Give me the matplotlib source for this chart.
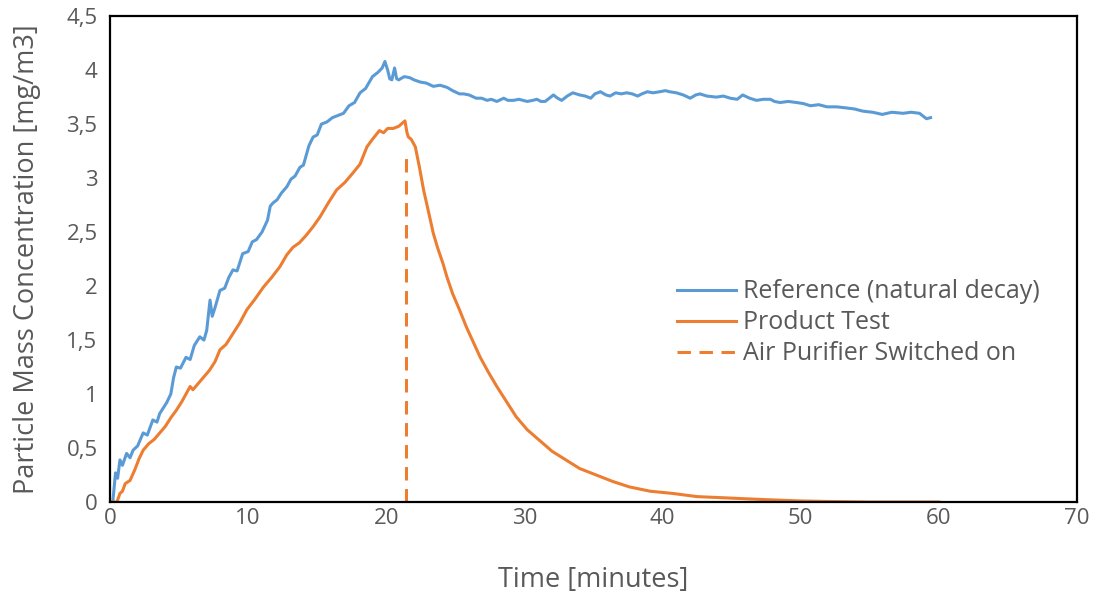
import matplotlib
matplotlib.use("Agg")
import matplotlib.pyplot as plt
from matplotlib.ticker import FuncFormatter

# Reference run (natural decay), minutes vs mg/m3
ref_t = [0.2, 0.4, 0.55, 0.72, 0.9, 1.2, 1.45, 1.67, 2.0, 2.4, 2.7, 3.1, 3.4, 3.6, 4.1, 4.4, 4.6, 4.8,
         5.1, 5.5, 5.8, 6.1, 6.5, 6.8, 7.0, 7.24, 7.4, 7.6, 7.96, 8.3, 8.6, 8.9, 9.2, 9.6, 10.0, 10.3,
         10.6, 11.0, 11.4, 11.6, 11.8, 12.1, 12.4, 12.8, 13.1, 13.4, 13.75, 14.0, 14.4, 14.7, 15.0,
         15.3, 15.7, 16.1, 16.5, 16.9, 17.3, 17.7, 18.1, 18.5, 19.0, 19.4, 19.7, 19.9, 20.1, 20.25,
         20.4, 20.6, 20.75, 20.9, 21.3, 21.7, 22.0, 22.45, 22.9, 23.4, 23.9, 24.4, 24.8, 25.3, 25.6,
         26.0, 26.5, 26.9, 27.3, 27.6, 28.0, 28.5, 28.8, 29.2, 29.6, 30.2, 30.6, 30.9, 31.2, 31.5,
         32.1, 32.4, 32.7, 33.1, 33.5, 34.0, 34.4, 34.8, 35.1, 35.5, 35.9, 36.2, 36.6, 37.0, 37.4,
         37.8, 38.2, 38.5, 38.9, 39.3, 39.8, 40.2, 40.5, 41.0, 41.5, 42.0, 42.4, 42.7, 43.2, 43.9,
         44.4, 44.9, 45.4, 45.8, 46.3, 46.8, 47.3, 47.8, 48.1, 48.5, 49.1, 49.7, 50.2, 50.7, 51.3,
         51.9, 52.6, 53.3, 53.9, 54.5, 55.2, 55.9, 56.6, 57.4, 58.0, 58.6, 59.1, 59.4]
ref_c = [0.0, 0.27, 0.22, 0.39, 0.34, 0.45, 0.41, 0.48, 0.52, 0.64, 0.62, 0.76, 0.74, 0.82, 0.92, 1.0,
         1.15, 1.25, 1.24, 1.34, 1.32, 1.45, 1.53, 1.50, 1.59, 1.87, 1.72, 1.80, 1.96, 1.98, 2.08, 2.15,
         2.14, 2.30, 2.32, 2.41, 2.43, 2.50, 2.61, 2.74, 2.77, 2.80, 2.86, 2.92, 2.99, 3.02, 3.10, 3.12,
         3.30, 3.38, 3.40, 3.50, 3.52, 3.56, 3.58, 3.60, 3.67, 3.70, 3.79, 3.83, 3.94, 3.98, 4.02, 4.08,
         4.00, 3.92, 3.91, 4.02, 3.92, 3.91, 3.94, 3.93, 3.91, 3.89, 3.88, 3.85, 3.86, 3.84, 3.81, 3.78,
         3.78, 3.77, 3.74, 3.74, 3.72, 3.73, 3.71, 3.74, 3.72, 3.72, 3.73, 3.71, 3.72, 3.73, 3.71, 3.71,
         3.77, 3.74, 3.72, 3.76, 3.79, 3.77, 3.76, 3.74, 3.78, 3.80, 3.77, 3.76, 3.79, 3.78, 3.79, 3.78,
         3.76, 3.78, 3.80, 3.79, 3.80, 3.81, 3.80, 3.79, 3.77, 3.74, 3.77, 3.78, 3.76, 3.75, 3.76, 3.74,
         3.73, 3.77, 3.74, 3.72, 3.73, 3.73, 3.71, 3.70, 3.71, 3.70, 3.69, 3.67, 3.68, 3.66, 3.66, 3.65,
         3.64, 3.62, 3.61, 3.59, 3.61, 3.60, 3.61, 3.60, 3.55, 3.56]

# Product test run
prod_t = [0.0, 0.5, 0.72, 0.9, 1.1, 1.45, 1.8, 2.1, 2.4, 2.8, 3.2, 3.6, 4.0, 4.4, 4.8, 5.2, 5.5, 5.8,
          6.0, 6.4, 6.8, 7.2, 7.6, 7.96, 8.4, 8.9, 9.4, 9.9, 10.5, 11.1, 11.7, 12.3, 12.8, 13.25, 13.7,
          14.2, 14.7, 15.2, 15.8, 16.4, 17.0, 17.6, 18.1, 18.6, 19.0, 19.5, 19.8, 20.1, 20.5, 20.9,
          21.35, 21.5, 21.6, 21.8, 22.1, 22.4, 22.7, 23.0, 23.4, 23.7, 24.1, 24.4, 24.8, 25.3, 25.8,
          26.3, 26.8, 27.4, 28.0, 28.7, 29.4, 30.2, 31.1, 32.0, 33.0, 34.0, 35.2, 36.4, 37.6, 39.1,
          40.7, 42.5, 44.3, 46.0, 47.9, 50.0, 52.0, 55.0, 60.0]
prod_c = [0.0, 0.0, 0.08, 0.10, 0.17, 0.20, 0.30, 0.40, 0.48, 0.54, 0.58, 0.64, 0.70, 0.78, 0.85, 0.93,
          1.00, 1.07, 1.04, 1.10, 1.16, 1.22, 1.30, 1.41, 1.46, 1.56, 1.66, 1.78, 1.88, 1.99, 2.08, 2.18,
          2.29, 2.36, 2.40, 2.47, 2.55, 2.64, 2.77, 2.89, 2.96, 3.05, 3.13, 3.29, 3.36, 3.44, 3.42, 3.46,
          3.46, 3.48, 3.53, 3.42, 3.38, 3.36, 3.29, 3.10, 2.89, 2.72, 2.49, 2.36, 2.21, 2.08, 1.93, 1.78,
          1.62, 1.48, 1.34, 1.20, 1.07, 0.93, 0.79, 0.67, 0.57, 0.47, 0.39, 0.31, 0.25, 0.19, 0.14, 0.10,
          0.08, 0.05, 0.04, 0.03, 0.02, 0.01, 0.005, 0.0, 0.0]

switch_on_t = 21.4
switch_on_top = 3.25

x_ticks = [0, 10, 20, 30, 40, 50, 60, 70]
y_ticks = [0, 0.5, 1, 1.5, 2, 2.5, 3, 3.5, 4, 4.5]

blue = "#5B9BD5"
orange = "#ED7D31"
grey = "#595959"

plt.rcParams["font.family"] = ["Open Sans", "DejaVu Sans"]

fig = plt.figure(figsize=(10.99, 5.98), dpi=100)
ax = fig.add_axes([0.1001, 0.1605, 0.8799, 0.8125])

ax.plot(ref_t, ref_c, color=blue, lw=2.2, label="Reference (natural decay)")
ax.plot(prod_t, prod_c, color=orange, lw=2.2, label="Product Test")
ax.plot([switch_on_t, switch_on_t], [0, switch_on_top], color=orange, lw=2.2,
        dashes=(4.4, 2.8), label="Air Purifier Switched on")

ax.set_xlim(0, 70)
ax.set_ylim(0, 4.5)
ax.set_xticks(x_ticks)
ax.set_yticks(y_ticks)
ax.yaxis.set_major_formatter(FuncFormatter(lambda v, p: f"{v:g}".replace(".", ",")))
ax.tick_params(length=0, labelsize=16, colors=grey)
ax.tick_params(axis="x", pad=4)
ax.tick_params(axis="y", pad=9)

for s in ax.spines.values():
    s.set_color("black")
    s.set_linewidth(1.6)

ax.set_xlabel("Time [minutes]", fontsize=19.5, color=grey, labelpad=27)
ax.set_ylabel("Particle Mass Concentration [mg/m3]", fontsize=19.5, color=grey, labelpad=18)

ax.legend(loc="upper left", bbox_to_anchor=(0.573, 0.484), frameon=False, fontsize=18,
          borderpad=0, handlelength=2.36, handletextpad=0.28, labelspacing=0.24,
          labelcolor=grey)

plt.savefig("out.png", dpi=100)
plt.close()
